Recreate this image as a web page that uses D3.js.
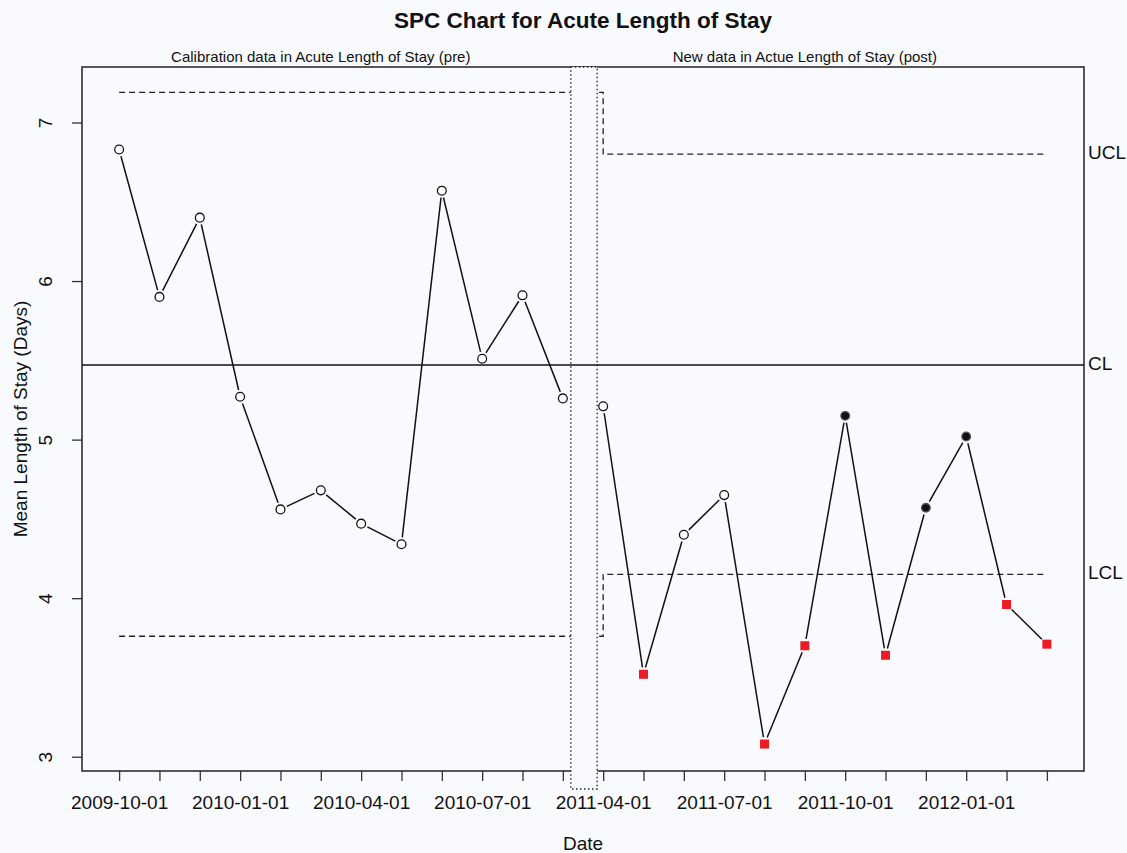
<!DOCTYPE html>
<html>
<head>
<meta charset="utf-8">
<title>SPC Chart</title>
<script src="https://d3js.org/d3.v7.min.js"></script>
<style>
  body { margin: 0; background: #f9fafd; }
  text { font-family: "Liberation Sans", Arial, sans-serif; fill: #111; }
</style>
</head>
<body>
<svg id="mainsvg" width="1127" height="853"></svg>
<script>
// ---------- data ----------
// months in the two phases (pre: calibration, post: new data)
const months = ["2009-10", "2009-11", "2009-12", "2010-01", "2010-02", "2010-03",
                "2010-04", "2010-05", "2010-06", "2010-07", "2010-08", "2010-09",
                "2011-04", "2011-05", "2011-06", "2011-07", "2011-08", "2011-09",
                "2011-10", "2011-11", "2011-12", "2012-01", "2012-02", "2012-03"];
const phase = ["pre", "pre", "pre", "pre", "pre", "pre", "pre", "pre", "pre", "pre", "pre", "pre",
               "post", "post", "post", "post", "post", "post", "post", "post", "post", "post", "post", "post"];
const meanStay = [6.83, 5.90, 6.40, 5.27, 4.56, 4.68, 4.47, 4.34, 6.57, 5.51, 5.91, 5.26,
                  5.21, 3.52, 4.40, 4.65, 3.08, 3.70, 5.15, 3.64, 4.57, 5.02, 3.96, 3.71];
// point status: open = in control, red = below LCL, black = run signal
const status = ["open", "open", "open", "open", "open", "open", "open", "open", "open", "open", "open", "open",
                "open", "red", "open", "open", "red", "red", "black", "red", "black", "black", "red", "red"];
const centreLine = 5.47;
const uclValues = {pre: 7.19, post: 6.80};
const lclValues = {pre: 3.76, post: 4.15};
const xTickLabels = {0: "2009-10-01", 3: "2010-01-01", 6: "2010-04-01", 9: "2010-07-01",
                     12: "2011-04-01", 15: "2011-07-01", 18: "2011-10-01", 21: "2012-01-01"};
const yTicks = [3, 4, 5, 6, 7];

// ---------- canvas ----------
const svg = d3.select("#mainsvg");
const margin = {top: 67, bottom: 82, left: 82, right: 43};
const width = +svg.attr("width"), height = +svg.attr("height");
const plotRight = width - margin.right;
const plotBottom = height - margin.bottom;
const bg = "#f9fafd";
const axisFont = 19;

svg.append("rect").attr("width", width).attr("height", height).attr("fill", bg);

const n = months.length;
const pad = (n - 1) * 0.04;
const xScale = d3.scaleLinear().domain([-pad, n - 1 + pad]).range([margin.left, plotRight]);
const yScale = d3.scaleLinear().domain([2.91, 7.35]).range([plotBottom, margin.top]);
const breakIdx = phase.indexOf("post"); // first post point

// ---------- control limits (step at phase change) ----------
function limitPath(vals) {
  return d3.line()([
    [xScale(0), yScale(vals.pre)],
    [xScale(breakIdx), yScale(vals.pre)],
    [xScale(breakIdx), yScale(vals.post)],
    [xScale(n - 1), yScale(vals.post)]
  ]);
}
[uclValues, lclValues].forEach(v => {
  svg.append("path").attr("d", limitPath(v))
    .attr("fill", "none").attr("stroke", "#222").attr("stroke-width", 1.3)
    .attr("stroke-dasharray", "6,4");
});

// ---------- data lines (type "b": gaps around points) ----------
const gap = 7;
for (let i = 0; i < n - 1; i++) {
  if (phase[i] !== phase[i + 1]) continue;
  const x1 = xScale(i), y1 = yScale(meanStay[i]);
  const x2 = xScale(i + 1), y2 = yScale(meanStay[i + 1]);
  const len = Math.hypot(x2 - x1, y2 - y1);
  if (len <= 2 * gap) continue;
  const ux = (x2 - x1) / len, uy = (y2 - y1) / len;
  svg.append("line")
    .attr("x1", x1 + ux * gap).attr("y1", y1 + uy * gap)
    .attr("x2", x2 - ux * gap).attr("y2", y2 - uy * gap)
    .attr("stroke", "#111").attr("stroke-width", 1.5);
}

// ---------- x axis ----------
const xAxis = d3.axisBottom(xScale)
  .tickValues(d3.range(n))
  .tickSize(10)
  .tickPadding(15)
  .tickFormat(i => xTickLabels[i] || "");
const xg = svg.append("g").attr("transform", `translate(0,${plotBottom})`).call(xAxis);
xg.select(".domain").remove();
xg.selectAll("line").attr("stroke", "#333").attr("stroke-width", 1.3);
xg.selectAll("text").attr("font-size", axisFont).attr("fill", "#111")
  .attr("font-family", "Liberation Sans, Arial, sans-serif");

// ---------- y axis ----------
const yAxis = d3.axisLeft(yScale).tickValues(yTicks).tickSize(10).tickFormat(d3.format("d"));
const yg = svg.append("g").attr("transform", `translate(${margin.left},0)`).call(yAxis);
yg.select(".domain").remove();
yg.selectAll("line").attr("stroke", "#333").attr("stroke-width", 1.3);
yg.selectAll("text")
  .attr("font-size", axisFont).attr("fill", "#111")
  .attr("font-family", "Liberation Sans, Arial, sans-serif")
  .attr("text-anchor", "middle").attr("x", 0).attr("dy", 0)
  .attr("transform", "translate(-35,0) rotate(-90)")
  .attr("dominant-baseline", "middle");

// ---------- plot box ----------
svg.append("rect")
  .attr("x", margin.left).attr("y", margin.top)
  .attr("width", plotRight - margin.left).attr("height", plotBottom - margin.top)
  .attr("fill", "none").attr("stroke", "#222").attr("stroke-width", 1.5);

// ---------- break between phases ----------
const breakLeft = xScale(breakIdx - 1) + 8, breakRight = xScale(breakIdx) - 6;
svg.append("rect")
  .attr("x", breakLeft).attr("y", margin.top)
  .attr("width", breakRight - breakLeft).attr("height", plotBottom - margin.top + 18)
  .attr("fill", bg).attr("stroke", "#222").attr("stroke-width", 1.3)
  .attr("stroke-dasharray", "1.5,2.5");

// ---------- centre line ----------
svg.append("line")
  .attr("x1", margin.left).attr("x2", plotRight)
  .attr("y1", yScale(centreLine)).attr("y2", yScale(centreLine))
  .attr("stroke", "#111").attr("stroke-width", 1.5);

// ---------- points ----------
const idx = d3.range(n);
svg.selectAll("circle.pt").data(idx.filter(i => status[i] !== "red")).join("circle")
  .attr("class", "pt")
  .attr("cx", i => xScale(i)).attr("cy", i => yScale(meanStay[i]))
  .attr("r", i => status[i] === "black" ? 4.3 : 4.4)
  .attr("fill", i => status[i] === "black" ? "#111" : "#fff")
  .attr("stroke", i => status[i] === "black" ? "#555" : "#111")
  .attr("stroke-width", 1.3);
svg.selectAll("rect.pt").data(idx.filter(i => status[i] === "red")).join("rect")
  .attr("class", "pt")
  .attr("x", i => xScale(i) - 4.5).attr("y", i => yScale(meanStay[i]) - 4.5)
  .attr("width", 9).attr("height", 9)
  .attr("fill", "#ec1c24");

// ---------- labels ----------
const rightLabels = [["UCL", uclValues.post], ["CL", centreLine], ["LCL", lclValues.post]];
rightLabels.forEach(([t, v]) => {
  svg.append("text").attr("x", plotRight + 4).attr("y", yScale(v))
    .attr("dominant-baseline", "middle").attr("font-size", axisFont).text(t);
});

svg.append("text").attr("x", (margin.left + plotRight) / 2).attr("y", 28)
  .attr("text-anchor", "middle").attr("font-size", 22.5).attr("font-weight", "bold")
  .text("SPC Chart for Acute Length of Stay");
svg.append("text").attr("x", xScale(5)).attr("y", 62)
  .attr("text-anchor", "middle").attr("font-size", 15)
  .text("Calibration data in Acute Length of Stay (pre)");
svg.append("text").attr("x", xScale(17)).attr("y", 62)
  .attr("text-anchor", "middle").attr("font-size", 15)
  .text("New data in Actue Length of Stay (post)");
svg.append("text").attr("x", (margin.left + plotRight) / 2).attr("y", 850)
  .attr("text-anchor", "middle").attr("font-size", axisFont).text("Date");
svg.append("text")
  .attr("transform", `translate(27,${(margin.top + plotBottom) / 2}) rotate(-90)`)
  .attr("text-anchor", "middle").attr("font-size", axisFont)
  .text("Mean Length of Stay (Days)");
</script>
</body>
</html>
